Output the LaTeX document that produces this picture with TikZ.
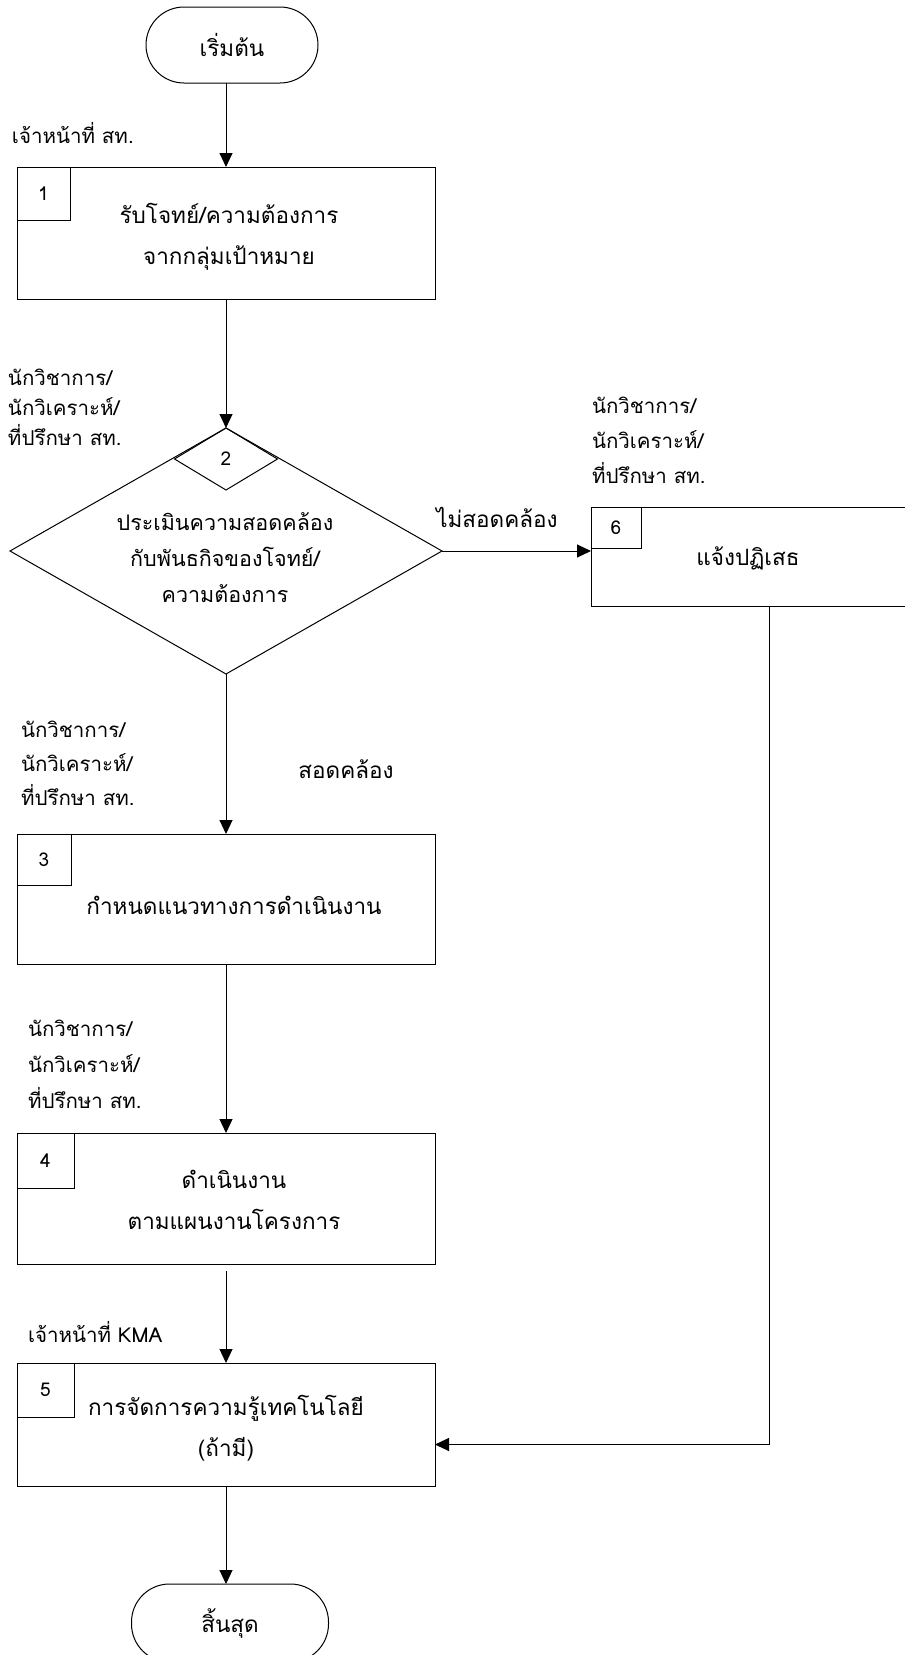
\documentclass[tikz,border=0pt]{standalone}
\usepackage{fontspec}
\setmainfont[Script=Thai]{Loma}
\usetikzlibrary{arrows.meta,shapes.geometric}
\tikzset{
 every node/.style={inner sep=0pt, outer sep=0pt},
 proc/.style={draw, line width=1pt, rectangle, minimum width=418pt},
 numbox/.style={draw, line width=1pt, rectangle, anchor=north west, font=\fontsize{19}{20}\selectfont},
 term/.style={draw, line width=1pt, rectangle, rounded corners=38pt},
 arr/.style={line width=1pt, -{Triangle[length=14pt,width=13pt]}},
 main/.style={font=\fontsize{22.5}{41}\selectfont, align=center},
 lab/.style={align=left, anchor=west},
}
\begin{document}
\begin{tikzpicture}[x=1pt,y=-1pt]
\useasboundingbox (0,0) rectangle (905,1655);
% terminators
\node[term, minimum width=172pt, minimum height=76pt, main] (start) at (232,45) {เริ่มต้น};
\node[term, minimum width=197pt, minimum height=78pt, main] (end) at (230,1623) {สิ้นสุด};
% box 1
\node[proc, minimum height=132pt] (b1) at (226,233) {};
\node[numbox, minimum width=53pt, minimum height=53pt] (n1) at (b1.north west) {1};
\node[main] (t1) at (229,237) {รับโจทย์/ความต้องการ\\จากกลุ่มเป้าหมาย};
% decision
\node[draw, line width=1pt, diamond, minimum width=432pt, minimum height=246pt] (d2) at (226,551) {};
\node[draw, line width=1pt, diamond, minimum width=103pt, minimum height=62pt, font=\fontsize{19}{20}\selectfont] (n2) at (226,459) {2};
\node[main, font=\fontsize{21.5}{36}\selectfont] (t2) at (225,558) {ประเมินความสอดคล้อง\\กับพันธกิจของโจทย์/\\ความต้องการ};
% box 6
\node[proc, minimum width=380pt, minimum height=99pt] (b6) at (781,556.5) {};
\node[numbox, minimum width=50pt, minimum height=41pt] (n6) at (b6.north west) {6};
\node[main] (t6) at (748,558) {แจ้งปฏิเสธ};
% box 3
\node[proc, minimum height=130pt] (b3) at (226,899) {};
\node[numbox, minimum width=54pt, minimum height=51pt] (n3) at (b3.north west) {3};
\node[main] (t3) at (234,905) {กำหนดแนวทางการดำเนินงาน};
% box 4
\node[proc, minimum height=131pt] (b4) at (226,1198.5) {};
\node[numbox, minimum width=57pt, minimum height=55pt] (n4) at (b4.north west) {4};
\node[main] (t4) at (234,1200) {ดำเนินงาน\\ตามแผนงานโครงการ};
% box 5
\node[proc, minimum height=123pt] (b5) at (226,1424.5) {};
\node[numbox, minimum width=57pt, minimum height=54pt] (n5) at (b5.north west) {5};
\node[main] (t5) at (226,1428) {การจัดการความรู้เทคโนโลยี\\(ถ้ามี)};
% labels
\node[lab, font=\fontsize{20.5}{30}\selectfont] (l0) at (12,133) {เจ้าหน้าที่ สท.};
\node[lab, font=\fontsize{20.5}{30}\selectfont] (l1) at (8,407) {นักวิชาการ/\\นักวิเคราะห์/\\ที่ปรึกษา สท.};
\node[lab, font=\fontsize{20.5}{35}\selectfont] (l6) at (592,440) {นักวิชาการ/\\นักวิเคราะห์/\\ที่ปรึกษา สท.};
\node[lab, font=\fontsize{20.5}{34}\selectfont] (l3) at (21,763) {นักวิชาการ/\\นักวิเคราะห์/\\ที่ปรึกษา สท.};
\node[lab, font=\fontsize{20.5}{36}\selectfont] (l4) at (28,1064) {นักวิชาการ/\\นักวิเคราะห์/\\ที่ปรึกษา สท.};
\node[lab, font=\fontsize{20.5}{30}\selectfont] (l5) at (28,1332) {เจ้าหน้าที่ KMA};
\node[main] (no) at (497,517) {ไม่สอดคล้อง};
\node[main] (yes) at (346,769) {สอดคล้อง};
% connectors
\draw[arr] (start.south -| b1.north) -- (b1.north);
\draw[arr] (b1.south) -- (d2.north);
\draw[arr] (d2.east) -- (d2.east -| b6.west);
\draw[arr] (d2.south) -- (b3.north);
\draw[arr] (b3.south) -- (b4.north);
\draw[arr] ([yshift=-7pt]b4.south) -- (b5.north);
\draw[arr] (b5.south) -- (b5.south |- end.north);
\draw[arr] ([xshift=178pt]b6.south west) |- ([yshift=-20pt]b5.east);
\end{tikzpicture}
\end{document}
